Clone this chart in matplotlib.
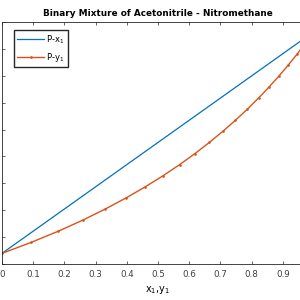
#!/usr/bin/env python3
"""P-x / P-y diagram for acetonitrile(1) / nitromethane(2), MATLAB look."""
import matplotlib
matplotlib.use("Agg")
import matplotlib.pyplot as plt

BLUE, ORANGE = "#0072BD", "#D95319"

# liquid mole fraction and bubble pressure (kPa)
x1 = [0.0, 1.0]
P_x = [41.98, 83.21]

# vapour mole fraction and dew pressure (kPa)
y1 = [0.0, 0.0945, 0.1805, 0.2592, 0.3313, 0.3978, 0.4593, 0.5163, 0.5692,
      0.6186, 0.6646, 0.7078, 0.7483, 0.7864, 0.8222, 0.8560, 0.8880, 0.9182,
      0.9469, 0.9741, 1.0]
P_y = [41.98, 44.04, 46.10, 48.16, 50.23, 52.29, 54.35, 56.41, 58.47, 60.53,
       62.60, 64.66, 66.72, 68.78, 70.84, 72.90, 74.96, 77.03, 79.09, 81.15,
       83.21]

xticks = [0, 0.1, 0.2, 0.3, 0.4, 0.5, 0.6, 0.7, 0.8, 0.9, 1]
# "1" and the y labels fall outside the cropped screenshot
xtick_labels = ["0", "0.1", "0.2", "0.3", "0.4", "0.5", "0.6", "0.7", "0.8",
                "0.9", ""]
yticks = [40, 45, 50, 55, 60, 65, 70, 75, 80, 85]

plt.rcParams.update({"font.family": "DejaVu Sans", "font.size": 6.3})

fig = plt.figure(figsize=(3, 3), dpi=100)
# the original screenshot is cropped: y labels and right edge are off-image
ax = fig.add_axes([0.0067, 0.12, 1.04, 0.807])

ax.plot(x1, P_x, color=BLUE, linewidth=0.9, label="P-x$_1$")
ax.plot(y1, P_y, color=ORANGE, linewidth=1.0, marker=".", markersize=1.8,
        label="P-y$_1$")

ax.set_xlim(0, 1)
ax.set_ylim(40, 85)
ax.set_xticks(xticks)
ax.set_xticklabels(xtick_labels)
ax.set_yticks(yticks)
ax.set_yticklabels([])
ax.tick_params(direction="in", top=True, right=True, length=2.5, width=0.5,
               colors="#262626", labelcolor="#404040", pad=4)
for s in ax.spines.values():
    s.set_linewidth(0.6)
    s.set_color("#262626")

ax.set_title("Binary Mixture of Acetonitrile - Nitromethane",
             fontsize=6.4, fontweight="bold", pad=4)
ax.set_xlabel("x$_1$,y$_1$", fontsize=7, labelpad=4)
ax.legend(loc="upper left", bbox_to_anchor=(0.038, 0.967), borderaxespad=0,
          fontsize=6, handlelength=3.2, handletextpad=0.3, borderpad=0.4,
          labelspacing=0.6, fancybox=False, edgecolor="#262626",
          framealpha=1)

fig.savefig("out.png", dpi=100)
